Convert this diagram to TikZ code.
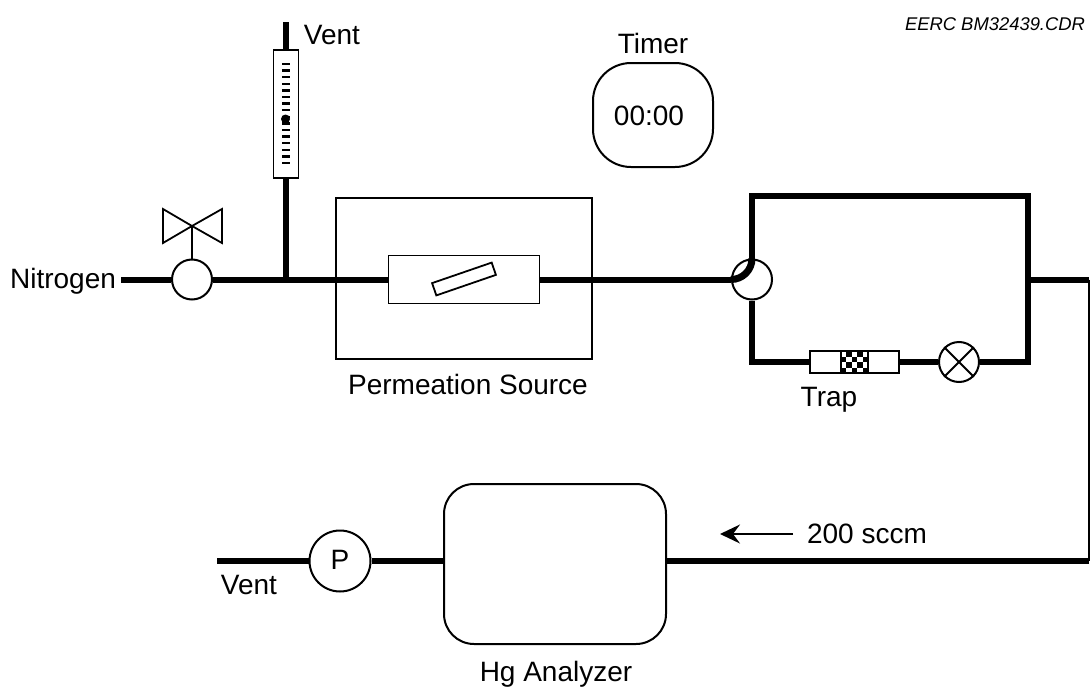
\documentclass[tikz,border=0pt]{standalone}
\usepackage{fontspec}
\setmainfont{Liberation Sans}
\usepackage{tikz}
\usetikzlibrary{arrows.meta}

\begin{document}
\begin{tikzpicture}[
            x = 1pt, y = -1pt, % pixels of the scan
            > = {Stealth[length = 20pt, width = 19pt, inset = 7pt]}, % arrow head style
            thin line/.style = {line width = 1.8pt},
            pipe/.style = {line width = 6pt}, % thick tubing
            unit/.style = {draw = black, thin line, fill = white, rectangle, inner sep = 0pt},
            joint/.style = {draw = black, line width = 2pt, fill = white, circle, inner sep = 0pt, minimum size = 40pt},
            label/.style = {inner sep = 0pt, font = \fontsize{28}{32}\selectfont}
        ]

        \useasboundingbox (0,0) rectangle (1090,688);

        % labels
        \node[label] (nitrogen) at (63,281) {Nitrogen};
        \node[label] (ventTop) at (332,35) {Vent};
        \node[label] (timerLabel) at (653,43) {Timer};
        \node[label] (sourceLabel) at (468,384) {Permeation Source};
        \node[label] (trapLabel) at (829,400) {Trap};
        \node[label] (flowLabel) at (867,534) {200 sccm};
        \node[label] (ventBottom) at (249,585) {Vent};
        \node[label] (analyzerLabel) at (556,674) {Hg Analyzer};
        \node[inner sep = 0pt, font = \fontsize{18.4}{20}\selectfont\itshape] (code) at (995,24) {EERC BM32439.CDR};

        % timer
        \node[unit, rounded corners = 38pt, minimum width = 120pt, minimum height = 104pt, line width = 2pt] (timer) at (653,115) {};
        \node[label] (clock) at (649,116) {00:00};

        % named points of the tubing
        \coordinate (lineStart) at (121,279.5);
        \coordinate (tee) at (286,279.5);
        \coordinate (ventEnd) at (286,22);
        \coordinate (topLeft) at (752,196);
        \coordinate (topRight) at (1028,196);
        \coordinate (bottomLeft) at (752,362);
        \coordinate (bottomRight) at (1028,362);
        \coordinate (outJoin) at (1028,279.5);
        \coordinate (outCorner) at (1089,279.5);
        \coordinate (lowCorner) at (1089,561);
        \coordinate (pumpEnd) at (217,561);
        \coordinate (arrowStart) at (793,534);
        \coordinate (arrowEnd) at (720,534);

        % oven goes under the tube
        \node[unit, minimum width = 256pt, minimum height = 161pt] (oven) at (464,278.5) {};

        \node[joint] (valve) at (192,279.5) {};
        \node[unit] (rotameter) at (286,114) [minimum width = 25pt, minimum height = 128pt] {};
        \node[unit] (source) at (464,279.5) [minimum width = 151pt, minimum height = 48pt] {};
        \node[unit, rotate = 19] (tube) at (464,279) [minimum width = 63pt, minimum height = 13pt] {};
        \node[joint] (switch) at (752,279.5) {};
        \node[unit] (trap) at (854.5,362) [minimum width = 89pt, minimum height = 22pt] {};
        \node[joint] (shutoff) at (959,362) {};
        \node[joint, minimum size = 61pt] (pump) at (340,561) {};
        \node[unit, rounded corners = 30pt, minimum width = 222pt, minimum height = 160pt, line width = 2pt] (analyzer) at (555,564) {};
        \node (pumpText) at (340,560) [label] {P};

        % tubing
        \draw[pipe] (lineStart) -- (valve);
        \draw[pipe] (valve) -- (tee) -- (source.west);
        \draw[pipe] (tee) -- (rotameter.south);
        \draw[pipe] (rotameter.north) -- (ventEnd);
        \draw[pipe] (source.east) -- (switch.west);
        \draw[pipe, line join = miter] (switch.north) -- (topLeft) -- (topRight) -- (bottomRight) -- (shutoff.east);
        \draw[pipe, line join = miter] (switch.south) -- (bottomLeft) -- (trap.west);
        \draw[pipe] (trap.east) -- (shutoff.west);
        \draw[pipe] (outJoin) -- (outCorner);
        \draw[thin line, line join = miter] (outCorner) -- (lowCorner);
        \draw[pipe] (lowCorner) -- (analyzer.east |- lowCorner);
        \draw[pipe] (analyzer.west |- pump) -- (pump.east);
        \draw[pipe] (pump.west) -- (pumpEnd);
        \draw[pipe, line width = 7pt] (switch.west) to[out = 0, in = -90] (switch.north);

        % needle valve
        \coordinate (handle) at (192,226);
        \draw[thin line] (valve.north) -- (handle);
        \draw[thin line, line join = miter] (handle) -- (163,209) -- (163,243) -- cycle;
        \draw[thin line, line join = miter] (handle) -- (222,209) -- (222,243) -- cycle;

        % scale of the rotameter
        \foreach \i in {0,...,15}
            \draw[line width = 2.4pt] (282,64+6.6*\i) -- (290,64+6.6*\i);
        \fill (285.5,119) circle (4.5pt);

        % shutoff cross
        \draw[thin line] (shutoff.north west) -- (shutoff.south east);
        \draw[thin line] (shutoff.north east) -- (shutoff.south west);

        % trap packing
        \foreach \i in {0,...,4}
            \foreach \j in {0,...,3} {
                \pgfmathparse{int(mod(\i+\j,2))}
                \ifnum\pgfmathresult=1
                    \fill (841+5.4*\i,351+5.5*\j) rectangle ++(5.4,5.5);
                \fi
            }
        \draw[thin line] (841,351) -- (841,373) (868,351) -- (868,373);

        % flow direction
        \draw[->, thin line] (arrowStart) -- (arrowEnd);

  \end{tikzpicture}
\end{document}
